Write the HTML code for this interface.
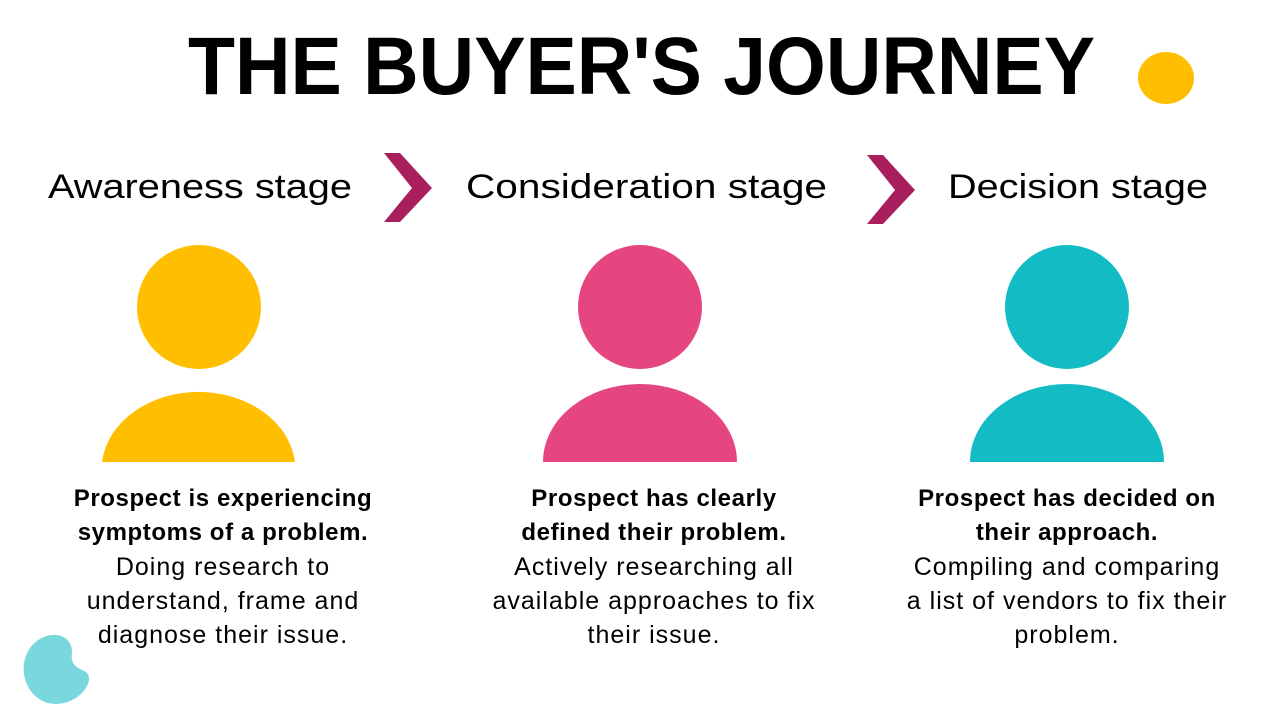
<!DOCTYPE html>
<html><head><meta charset="utf-8"><style>html,body{margin:0;padding:0;background:#fff}svg{display:block}</style></head>
<body>
<svg width="1280" height="712" viewBox="0 0 1280 712" xmlns="http://www.w3.org/2000/svg" font-family="Liberation Sans, sans-serif">
<rect width="1280" height="712" fill="#fff"/>
<text x="188" y="94" font-size="82" font-weight="bold" textLength="907" lengthAdjust="spacingAndGlyphs" fill="#000">THE BUYER'S JOURNEY</text>
<ellipse cx="1166" cy="78" rx="28" ry="26" fill="#FFBF00"/>
<path d="M30,648 C45,628 72,632 72,652 C70,666 78,668 86,672 C96,680 80,704 56,704 C30,704 14,672 30,648 Z" fill="#79D8DE"/>
<g font-size="34" fill="#000">
<text x="48" y="198" textLength="304" lengthAdjust="spacingAndGlyphs">Awareness stage</text>
<text x="466" y="198" textLength="361" lengthAdjust="spacingAndGlyphs">Consideration stage</text>
<text x="948" y="198" textLength="260" lengthAdjust="spacingAndGlyphs">Decision stage</text>
</g>
<polygon points="384,153 400,153 432,188 400,222 384,222 412,188" fill="#A91F5E"/>
<polygon points="867,155 883,155 915,190 883,224 867,224 895,190" fill="#A91F5E"/>
<circle cx="199" cy="307" r="62" fill="#FFBF00"/>
<path d="M102,462 A97,78 0 0 1 295,462 Z" fill="#FFBF00"/>
<circle cx="640" cy="307" r="62" fill="#E5467F"/>
<path d="M543,462 A97,78 0 0 1 737,462 Z" fill="#E5467F"/>
<circle cx="1067" cy="307" r="62" fill="#13BCC4"/>
<path d="M970,462 A97,78 0 0 1 1164,462 Z" fill="#13BCC4"/>
<g text-anchor="middle" fill="#000">
<g font-weight="bold" font-size="24" letter-spacing="0.6">
<text x="223" y="506">Prospect is experiencing</text>
<text x="223" y="540">symptoms of a problem.</text>
<text x="654" y="506">Prospect has clearly</text>
<text x="654" y="540">defined their problem.</text>
<text x="1067" y="506">Prospect has decided on</text>
<text x="1067" y="540">their approach.</text>
</g>
<g font-size="25" letter-spacing="1">
<text x="223" y="575">Doing research to</text>
<text x="223" y="609">understand, frame and</text>
<text x="223" y="643">diagnose their issue.</text>
<text x="654" y="575">Actively researching all</text>
<text x="654" y="609">available approaches to fix</text>
<text x="654" y="643">their issue.</text>
<text x="1067" y="575">Compiling and comparing</text>
<text x="1067" y="609">a list of vendors to fix their</text>
<text x="1067" y="643">problem.</text>
</g>
</g>
</svg>
</body></html>
